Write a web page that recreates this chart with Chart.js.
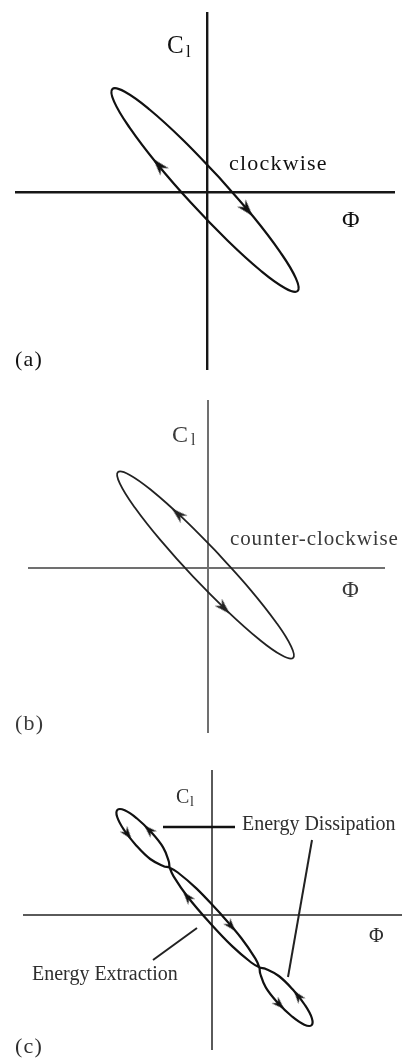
<!DOCTYPE html>
<html>
<head>
<meta charset="utf-8">
<script src="https://cdn.jsdelivr.net/npm/chart.js@4.4.1/dist/chart.umd.min.js"></script>
<style>
  html, body { margin: 0; padding: 0; background: #fff; }
  body {
    width: 403px; height: 1063px; position: relative; overflow: hidden;
    font-family: "Liberation Serif", "DejaVu Serif", serif;
  }
  .plot { position: absolute; }
  .lbl { position: absolute; white-space: nowrap; line-height: 1; }
  .pa { color: #111; }
  .pb { color: #3a3a3a; }
  .pc { color: #2e2e2e; }
</style>
</head>
<body>

<div class="plot" style="left:15px;top:12px;width:380px;height:358px"><canvas id="plotA"></canvas></div>
<div class="plot" style="left:28px;top:400px;width:357px;height:333px"><canvas id="plotB"></canvas></div>
<div class="plot" style="left:23px;top:770px;width:379px;height:280px"><canvas id="plotC"></canvas></div>

<!-- (a) -->
<div class="lbl pa" style="left:167px;top:32px;font-size:25px">C</div>
<div class="lbl pa" style="left:186px;top:43px;font-size:17px">l</div>
<div class="lbl pa" style="left:229px;top:152px;font-size:22px;letter-spacing:1.2px">clockwise</div>
<div class="lbl pa" style="left:342px;top:207px;font-size:24px">Φ</div>
<div class="lbl pa" style="left:15px;top:348px;font-size:22px;letter-spacing:1.2px">(a)</div>

<!-- (b) -->
<div class="lbl pb" style="left:172px;top:422px;font-size:24px">C</div>
<div class="lbl pb" style="left:191px;top:432px;font-size:16px">l</div>
<div class="lbl pb" style="left:230px;top:528px;font-size:21px;letter-spacing:0.9px">counter-clockwise</div>
<div class="lbl pb" style="left:342px;top:578px;font-size:23px">Φ</div>
<div class="lbl pb" style="left:15px;top:712px;font-size:22px;letter-spacing:1.2px">(b)</div>

<!-- (c) -->
<div class="lbl pc" style="left:176px;top:786px;font-size:20px">C</div>
<div class="lbl pc" style="left:190px;top:795px;font-size:14px">l</div>
<div class="lbl pc" style="left:242px;top:813px;font-size:20px">Energy Dissipation</div>
<div class="lbl pc" style="left:369px;top:925px;font-size:20px">Φ</div>
<div class="lbl pc" style="left:32px;top:963px;font-size:20px">Energy Extraction</div>
<div class="lbl pc" style="left:15px;top:1035px;font-size:22px;letter-spacing:1.2px">(c)</div>

<script>
// Axis limits (Φ horizontal, C_l vertical), arbitrary units
const limitsA = { x: [-1.92, 1.88], y: [-1.78, 1.80] };
const limitsB = { x: [-1.80, 1.77], y: [-1.65, 1.68] };
const limitsC = { x: [-1.89, 1.90], y: [-1.35, 1.45] };

// (a) single loop, listed in the direction it is traversed (clockwise)
const loopA = [
  { x: 0.120, y: 0.148 }, { x: 0.464, y: -0.248 }, { x: 0.734, y: -0.604 },
  { x: 0.889, y: -0.864 }, { x: 0.906, y: -0.990 }, { x: 0.782, y: -0.962 },
  { x: 0.535, y: -0.785 }, { x: 0.205, y: -0.485 }, { x: -0.160, y: -0.108 },
  { x: -0.504, y: 0.288 }, { x: -0.774, y: 0.644 }, { x: -0.929, y: 0.904 },
  { x: -0.946, y: 1.030 }, { x: -0.822, y: 1.002 }, { x: -0.575, y: 0.825 },
  { x: -0.245, y: 0.525 }, { x: 0.120, y: 0.148 },
];
const arrowsA = [{ x: 0.40, y: -0.175 }, { x: -0.48, y: 0.265 }];

// (b) single loop, counter-clockwise
const loopB = [
  { x: 0.099, y: 0.147 }, { x: -0.246, y: 0.493 }, { x: -0.557, y: 0.770 },
  { x: -0.787, y: 0.933 }, { x: -0.901, y: 0.959 }, { x: -0.881, y: 0.844 },
  { x: -0.732, y: 0.605 }, { x: -0.475, y: 0.278 }, { x: -0.149, y: -0.087 },
  { x: 0.196, y: -0.433 }, { x: 0.507, y: -0.710 }, { x: 0.737, y: -0.873 },
  { x: 0.851, y: -0.899 }, { x: 0.831, y: -0.784 }, { x: 0.682, y: -0.545 },
  { x: 0.425, y: -0.218 }, { x: 0.099, y: 0.147 },
];
const arrowsB = [{ x: -0.30, y: 0.54 }, { x: 0.16, y: -0.40 }];

// (c) one closed path with two crossings: end loops counter-clockwise,
// middle loop clockwise
const loopC = [
  { x: 0.077, y: 0.022 }, { x: 0.294, y: -0.233 }, { x: 0.434, y: -0.437 },
  { x: 0.473, y: -0.523 }, { x: 0.482, y: -0.585 }, { x: 0.539, y: -0.726 },
  { x: 0.660, y: -0.880 }, { x: 0.800, y: -1.015 }, { x: 0.923, y: -1.097 },
  { x: 0.995, y: -1.102 }, { x: 0.998, y: -1.030 }, { x: 0.929, y: -0.900 },
  { x: 0.808, y: -0.746 }, { x: 0.668, y: -0.610 }, { x: 0.534, y: -0.538 },
  { x: 0.473, y: -0.523 }, { x: 0.392, y: -0.475 }, { x: 0.204, y: -0.314 },
  { x: -0.027, y: -0.072 }, { x: -0.244, y: 0.183 }, { x: -0.384, y: 0.387 },
  { x: -0.423, y: 0.473 }, { x: -0.432, y: 0.535 }, { x: -0.489, y: 0.676 },
  { x: -0.610, y: 0.830 }, { x: -0.750, y: 0.965 }, { x: -0.873, y: 1.047 },
  { x: -0.945, y: 1.052 }, { x: -0.948, y: 0.980 }, { x: -0.879, y: 0.850 },
  { x: -0.758, y: 0.696 }, { x: -0.618, y: 0.560 }, { x: -0.484, y: 0.488 },
  { x: -0.423, y: 0.473 }, { x: -0.342, y: 0.425 }, { x: -0.154, y: 0.264 },
  { x: 0.077, y: 0.022 },
];
const arrowsC = [
  { x: -0.845, y: 0.81 }, { x: -0.63, y: 0.85 },
  { x: -0.245, y: 0.18 }, { x: 0.19, y: -0.11 },
  { x: 0.86, y: -0.81 }, { x: 0.675, y: -0.895 },
];

// label leaders
const leadDissipationA = [{ x: -0.49, y: 0.88 }, { x: 0.23, y: 0.88 }];
const leadDissipationB = [{ x: 1.00, y: 0.75 }, { x: 0.76, y: -0.62 }];
const leadExtraction   = [{ x: -0.15, y: -0.13 }, { x: -0.59, y: -0.45 }];

// barbed arrowhead pointing up; Chart.js rotates it per point
function arrowHead(len, wide, color) {
  const c = document.createElement('canvas');
  c.width = Math.ceil(wide) + 2;
  c.height = Math.ceil(len) + 2;
  const g = c.getContext('2d');
  const cx = c.width / 2;
  g.fillStyle = color;
  g.beginPath();
  g.moveTo(cx, 1);
  g.lineTo(cx + wide / 2, len + 1);
  g.lineTo(cx, len * 0.68 + 1);
  g.lineTo(cx - wide / 2, len + 1);
  g.closePath();
  g.fill();
  return c;
}

// heading of the nearest path segment, in degrees clockwise from up
function headingAlong(path) {
  return ctx => {
    const sx = ctx.chart.scales.x, sy = ctx.chart.scales.y;
    const p = ctx.raw;
    if (!p) return 0;
    const px = sx.getPixelForValue(p.x), py = sy.getPixelForValue(p.y);
    if (!isFinite(px) || !isFinite(py)) return 0;
    let best = Infinity, ang = 0;
    for (let i = 1; i < path.length; i++) {
      const ax = sx.getPixelForValue(path[i - 1].x), ay = sy.getPixelForValue(path[i - 1].y);
      const bx = sx.getPixelForValue(path[i].x), by = sy.getPixelForValue(path[i].y);
      const dx = bx - ax, dy = by - ay;
      const len2 = dx * dx + dy * dy;
      let t = len2 ? ((px - ax) * dx + (py - ay) * dy) / len2 : 0;
      t = Math.max(0, Math.min(1, t));
      const d = Math.hypot(ax + t * dx - px, ay + t * dy - py);
      if (d < best) { best = d; ang = Math.atan2(dx, -dy) * 180 / Math.PI; }
    }
    return ang;
  };
}

function curve(data, color, width, tension) {
  return {
    data, showLine: true, fill: false,
    borderColor: color, borderWidth: width,
    tension: tension, pointRadius: 0, pointHoverRadius: 0,
  };
}

function heads(data, path, img) {
  return {
    data, showLine: false,
    pointStyle: img, pointRadius: 5, pointHoverRadius: 5,
    pointRotation: headingAlong(path),
  };
}

function axis(lim, color, width) {
  return {
    type: 'linear', min: lim[0], max: lim[1], bounds: 'data',
    afterBuildTicks: s => { s.ticks = [{ value: 0 }]; },
    ticks: { display: false },
    border: { display: false },
    grid: { color, lineWidth: width, drawTicks: false },
  };
}

function panel(id, limits, datasets, axisColor, axisWidth) {
  return new Chart(document.getElementById(id), {
    type: 'scatter',
    data: { datasets },
    options: {
      responsive: true,
      maintainAspectRatio: false,
      animation: false,
      events: [],
      layout: { padding: 0, autoPadding: false },
      plugins: { legend: { display: false }, tooltip: { enabled: false } },
      scales: {
        x: axis(limits.x, axisColor, axisWidth),
        y: axis(limits.y, axisColor, axisWidth),
      },
    },
  });
}

panel('plotA', limitsA, [
  curve(loopA, '#111', 2.2, 0.4),
  heads(arrowsA, loopA, arrowHead(17, 11, '#111')),
], '#161616', 2.4);

panel('plotB', limitsB, [
  curve(loopB, '#222', 1.8, 0.4),
  heads(arrowsB, loopB, arrowHead(16, 10, '#222')),
], '#707070', 2);

panel('plotC', limitsC, [
  curve(loopC, '#111', 2.2, 0.4),
  heads(arrowsC, loopC, arrowHead(13, 9, '#111')),
  curve(leadDissipationA, '#111', 2.6, 0),
  curve(leadDissipationB, '#222', 2, 0),
  curve(leadExtraction, '#222', 2, 0),
], '#5a5a5a', 2);
</script>
</body>
</html>
